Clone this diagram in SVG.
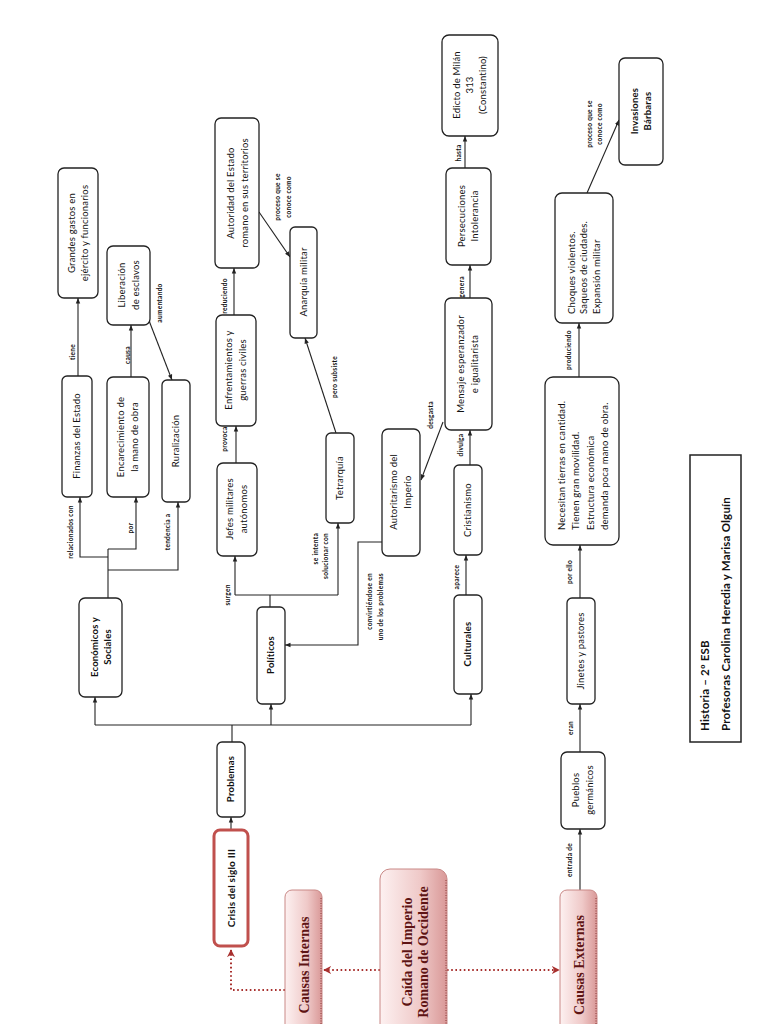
<svg xmlns="http://www.w3.org/2000/svg" width="768" height="1024" viewBox="0 0 768 1024">
<defs>
<style>
.box{fill:#fff;stroke:#222;stroke-width:1.3}
.t{font-family:Lato,"Open Sans","Liberation Sans",sans-serif;font-size:9.5px;fill:#111;text-anchor:middle;letter-spacing:0.2px}
.b{font-weight:bold}
.s{text-anchor:start}
.lbl{font-family:Lato,"Liberation Sans",sans-serif;font-size:6.5px;font-weight:bold;fill:#111;text-anchor:middle;letter-spacing:0.3px}
.e{text-anchor:end}
.cn{fill:none;stroke:#222;stroke-width:1.1;marker-end:url(#ah)}
.ln{fill:none;stroke:#222;stroke-width:1.1}
.dot{fill:none;stroke:#a8302e;stroke-width:2;stroke-dasharray:1.6 2.6}
.causa{fill:url(#pink);stroke:#c98886;stroke-width:1}
.ct{font-family:"Liberation Serif","DejaVu Serif",serif;font-weight:bold;fill:#5e1414;text-anchor:middle}
</style>
<linearGradient id="pink" x1="0" y1="0" x2="1" y2="0">
<stop offset="0" stop-color="#fdf1f1"/>
<stop offset="0.6" stop-color="#efc9c8"/>
<stop offset="1" stop-color="#d99897"/>
</linearGradient>
<marker id="ah" viewBox="0 0 10 10" refX="10" refY="5" markerWidth="5" markerHeight="5" orient="auto"><path d="M0,1 L10,5 L0,9 z" fill="#222"/></marker>
<marker id="rh" viewBox="0 0 10 10" refX="9" refY="5" markerWidth="8" markerHeight="8" markerUnits="userSpaceOnUse" orient="auto"><path d="M0,0 L10,5 L0,10 L3,5 z" fill="#a8302e"/></marker>
</defs>
<rect width="768" height="1024" fill="#fff"/>

<g id="connectors">
<path class="cn" d="M231,830 V817"/>
<path class="ln" d="M232,742 V725 M95,725 H471"/>
<path class="cn" d="M95,725 V697"/>
<path class="cn" d="M271,725 V704"/>
<path class="cn" d="M471,725 V694"/>
<path class="ln" d="M108,598 V549"/>
<path class="cn" d="M108,557 H80 V497"/>
<path class="cn" d="M108,549 H136 V497"/>
<path class="cn" d="M108,570 H178 V502"/>
<path class="cn" d="M78,377 V298"/>
<path class="cn" d="M131,377 V325"/>
<path class="cn" d="M148,318 L172,380"/>
<path class="ln" d="M270,607 V595 M235,595 H338"/>
<path class="cn" d="M235,595 V556"/>
<path class="cn" d="M338,595 V523"/>
<path class="cn" d="M236,463 V426"/>
<path class="cn" d="M234,315 V268"/>
<path class="cn" d="M259,212 L290,257"/>
<path class="cn" d="M336,433 L305,338"/>
<path class="cn" d="M382,542 H358 V645 H285"/>
<path class="cn" d="M443,422 L421,480"/>
<path class="cn" d="M466,595 V555"/>
<path class="cn" d="M470,465 V430"/>
<path class="cn" d="M470,298 V265"/>
<path class="cn" d="M465,168 V136"/>
<path class="cn" d="M587,193 L619,120"/>
<path class="cn" d="M579,377 V323"/>
<path class="cn" d="M580,598 V545"/>
<path class="cn" d="M580,752 V704"/>
<path class="cn" d="M580,890 V829"/>
<path class="dot" d="M380,970 H324" marker-end="url(#rh)"/>
<path class="dot" d="M447,970 H559" marker-end="url(#rh)"/>
<path class="dot" d="M285,990 H231 V950" marker-end="url(#rh)"/>

<text class="lbl" transform="translate(73,532) rotate(-90)">relacionados con</text>
<text class="lbl" transform="translate(133,528) rotate(-90)">por</text>
<text class="lbl" transform="translate(170,532) rotate(-90)">tendencia a</text>
<text class="lbl" transform="translate(75,352) rotate(-90)">tiene</text>
<text class="lbl" transform="translate(130,355) rotate(-90)">causa</text>
<text class="lbl" transform="translate(162,303) rotate(-90)">aumentando</text>
<text class="lbl" transform="translate(230,595) rotate(-90)">surgen</text>
<text class="lbl e" transform="translate(318,533) rotate(-90)"><tspan x="0" y="0">se intenta</tspan><tspan x="0" y="10">solucionar con</tspan></text>
<text class="lbl" transform="translate(227,439) rotate(-90)">provoca</text>
<text class="lbl" transform="translate(227,296) rotate(-90)">reduciendo</text>
<text class="lbl" transform="translate(280,197) rotate(-90)"><tspan x="0" y="0">proceso que se</tspan><tspan x="0" y="11">conoce como</tspan></text>
<text class="lbl" transform="translate(337,377) rotate(-90)">pero subsiste</text>
<text class="lbl e" transform="translate(372,573) rotate(-90)"><tspan x="0" y="0">convirtiéndose en</tspan><tspan x="0" y="11">uno de los problemas</tspan></text>
<text class="lbl" transform="translate(433,415) rotate(-90)">desgasta</text>
<text class="lbl" transform="translate(459,577) rotate(-90)">aparece</text>
<text class="lbl" transform="translate(463,445) rotate(-90)">divulga</text>
<text class="lbl" transform="translate(464,287) rotate(-90)">genera</text>
<text class="lbl" transform="translate(461,153) rotate(-90)">hasta</text>
<text class="lbl" transform="translate(592,124) rotate(-90)"><tspan x="0" y="0">proceso que se</tspan><tspan x="0" y="10">conoce como</tspan></text>
<text class="lbl" transform="translate(571,350) rotate(-90)">produciendo</text>
<text class="lbl" transform="translate(572,572) rotate(-90)">por ello</text>
<text class="lbl" transform="translate(573,728) rotate(-90)">eran</text>
<text class="lbl" transform="translate(572,860) rotate(-90)">entrada de</text>
</g>

<g id="crisis">
<rect x="214" y="830" width="34" height="116" rx="6" fill="#fff" stroke="#c0504d" stroke-width="3"/>
<text class="t b" style="font-size:10px" transform="translate(231,888) rotate(-90)" y="3.5">Crisis del siglo III</text>
</g>
<g id="causas-internas">
<rect class="causa" x="285" y="890" width="37" height="170" rx="7"/>
<path d="M321,898 V1024" stroke="#8a3a39" stroke-width="1" stroke-dasharray="1 1.5"/>
<text class="ct" style="font-size:14px" transform="translate(304,965) rotate(-90)" y="5">Causas Internas</text>
</g>
<g id="caida">
<rect class="causa" x="380" y="869" width="67" height="190" rx="10"/>
<path d="M446,880 V1024" stroke="#8a3a39" stroke-width="1" stroke-dasharray="1 1.5"/>
<text class="ct" style="font-size:14px" transform="translate(415,952) rotate(-90)"><tspan x="0" y="-3">Caída del Imperio</tspan><tspan x="0" y="13">Romano de Occidente</tspan></text>
</g>
<g id="causas-externas">
<rect class="causa" x="560" y="890" width="37" height="170" rx="7"/>
<path d="M596,898 V1024" stroke="#8a3a39" stroke-width="1" stroke-dasharray="1 1.5"/>
<text class="ct" style="font-size:14px" transform="translate(579,965) rotate(-90)" y="5">Causas Externas</text>
</g>

<g id="problemas">
<rect class="box" x="217" y="742" width="28" height="75" rx="5"/>
<text class="t b" transform="translate(231,779) rotate(-90)" y="3.3">Problemas</text>
</g>
<g id="economicos">
<rect class="box" x="79" y="598" width="43" height="99" rx="6"/>
<text class="t b" transform="translate(101.5,647) rotate(-90)"><tspan x="0" y="-3.2">Económicos y</tspan><tspan x="0" y="9.8">Sociales</tspan></text>
</g>
<g id="politicos">
<rect class="box" x="257" y="607" width="28" height="97" rx="5"/>
<text class="t b" transform="translate(271,655) rotate(-90)" y="3.3">Políticos</text>
</g>
<g id="culturales">
<rect class="box" x="454" y="595" width="28" height="99" rx="5"/>
<text class="t b" transform="translate(468,644) rotate(-90)" y="3.3">Culturales</text>
</g>
<g id="finanzas">
<rect class="box" x="62" y="376" width="30" height="121" rx="5"/>
<text class="t" transform="translate(77,436) rotate(-90)" y="3.3">Finanzas del Estado</text>
</g>
<g id="grandes-gastos">
<rect class="box" x="58" y="168" width="40" height="130" rx="6"/>
<text class="t" transform="translate(78.5,233) rotate(-90)"><tspan x="0" y="-3.2">Grandes gastos en</tspan><tspan x="0" y="9.8">ejército y funcionarios</tspan></text>
</g>
<g id="liberacion">
<rect class="box" x="107" y="246" width="43" height="79" rx="6"/>
<text class="t" transform="translate(129,285) rotate(-90)"><tspan x="0" y="-3.7">Liberación</tspan><tspan x="0" y="10.3">de esclavos</tspan></text>
</g>
<g id="encarecimiento">
<rect class="box" x="107" y="377" width="42" height="120" rx="6"/>
<text class="t" transform="translate(128,437) rotate(-90)"><tspan x="0" y="-3.7">Encarecimiento de</tspan><tspan x="0" y="10.3">la mano de obra</tspan></text>
</g>
<g id="ruralizacion">
<rect class="box" x="162" y="380" width="28" height="122" rx="5"/>
<text class="t" transform="translate(176,441) rotate(-90)" y="3.3">Ruralización</text>
</g>
<g id="jefes">
<rect class="box" x="217" y="463" width="40" height="93" rx="6"/>
<text class="t" transform="translate(237,509) rotate(-90)"><tspan x="0" y="-3.7">Jefes militares</tspan><tspan x="0" y="10.3">autónomos</tspan></text>
</g>
<g id="enfrentamientos">
<rect class="box" x="216" y="315" width="40" height="111" rx="6"/>
<text class="t" transform="translate(236,370) rotate(-90)"><tspan x="0" y="-3.7">Enfrentamientos y</tspan><tspan x="0" y="10.3">guerras civiles</tspan></text>
</g>
<g id="autoridad">
<rect class="box" x="215" y="118" width="44" height="150" rx="6"/>
<text class="t" transform="translate(238,193) rotate(-90)"><tspan x="0" y="-3.7">Autoridad del Estado</tspan><tspan x="0" y="10.3">romano en sus territorios</tspan></text>
</g>
<g id="anarquia">
<rect class="box" x="290" y="227" width="27" height="111" rx="5"/>
<text class="t" transform="translate(303.5,282) rotate(-90)" y="3.3">Anarquía militar</text>
</g>
<g id="tetrarquia">
<rect class="box" x="326" y="433" width="28" height="90" rx="5"/>
<text class="t" transform="translate(340,478) rotate(-90)" y="3.3">Tetrarquía</text>
</g>
<g id="autoritarismo">
<rect class="box" x="382" y="429" width="38" height="127" rx="6"/>
<text class="t" transform="translate(401,492) rotate(-90)"><tspan x="0" y="-3.7">Autoritarismo del</tspan><tspan x="0" y="10.3">Imperio</tspan></text>
</g>
<g id="cristianismo">
<rect class="box" x="454" y="465" width="28" height="90" rx="5"/>
<text class="t" transform="translate(468,510) rotate(-90)" y="3.3">Cristianismo</text>
</g>
<g id="mensaje">
<rect class="box" x="445" y="298" width="47" height="132" rx="6"/>
<text class="t" transform="translate(468,364) rotate(-90)"><tspan x="0" y="-3.7">Mensaje esperanzador</tspan><tspan x="0" y="10.3">e igualitarista</tspan></text>
</g>
<g id="persecuciones">
<rect class="box" x="446" y="168" width="45" height="97" rx="6"/>
<text class="t" transform="translate(468.5,216) rotate(-90)"><tspan x="0" y="-3.2">Persecuciones</tspan><tspan x="0" y="9.8">Intolerancia</tspan></text>
</g>
<g id="edicto">
<rect class="box" x="442" y="35" width="56" height="101" rx="7"/>
<text class="t" transform="translate(470,85) rotate(-90)"><tspan x="0" y="-9.7">Edicto de Milán</tspan><tspan x="0" y="3.3">313</tspan><tspan x="0" y="16.3">(Constantino)</tspan></text>
</g>
<g id="invasiones">
<rect class="box" x="619" y="58" width="44" height="107" rx="6"/>
<text class="t b" transform="translate(641,111) rotate(-90)"><tspan x="0" y="-3.2">Invasiones</tspan><tspan x="0" y="9.8">Bárbaras</tspan></text>
</g>
<g id="choques">
<rect class="box" x="555" y="193" width="58" height="130" rx="7"/>
<text class="t s" transform="translate(584,314) rotate(-90)"><tspan x="0" y="-9.2">Choques violentos.</tspan><tspan x="0" y="3.3">Saqueos de ciudades.</tspan><tspan x="0" y="15.8">Expansión militar</tspan></text>
</g>
<g id="necesitan">
<rect class="box" x="545" y="377" width="74" height="168" rx="8"/>
<text class="t s" transform="translate(583,530) rotate(-90)"><tspan x="0" y="-18.4">Necesitan tierras en cantidad.</tspan><tspan x="0" y="-3.9">Tienen gran movilidad.</tspan><tspan x="0" y="10.6">Estructura económica</tspan><tspan x="0" y="25.1">demanda poca mano de obra.</tspan></text>
</g>
<g id="jinetes">
<rect class="box" x="567" y="598" width="28" height="106" rx="5"/>
<text class="t" transform="translate(581,651) rotate(-90)" y="3.3">Jinetes y pastores</text>
</g>
<g id="pueblos">
<rect class="box" x="561" y="752" width="44" height="77" rx="6"/>
<text class="t" transform="translate(583,790) rotate(-90)"><tspan x="0" y="-3.7">Pueblos</tspan><tspan x="0" y="10.3">germánicos</tspan></text>
</g>
<g id="titulo">
<rect x="690" y="455" width="51" height="287" fill="#fff" stroke="#222" stroke-width="1.5"/>
<text class="t b s" style="font-size:11.5px" transform="translate(715,731) rotate(-90)"><tspan x="0" y="-6.5">Historia – 2º ESB</tspan><tspan x="0" y="14.5">Profesoras Carolina Heredia y Marisa Olguín</tspan></text>
</g>
</svg>
